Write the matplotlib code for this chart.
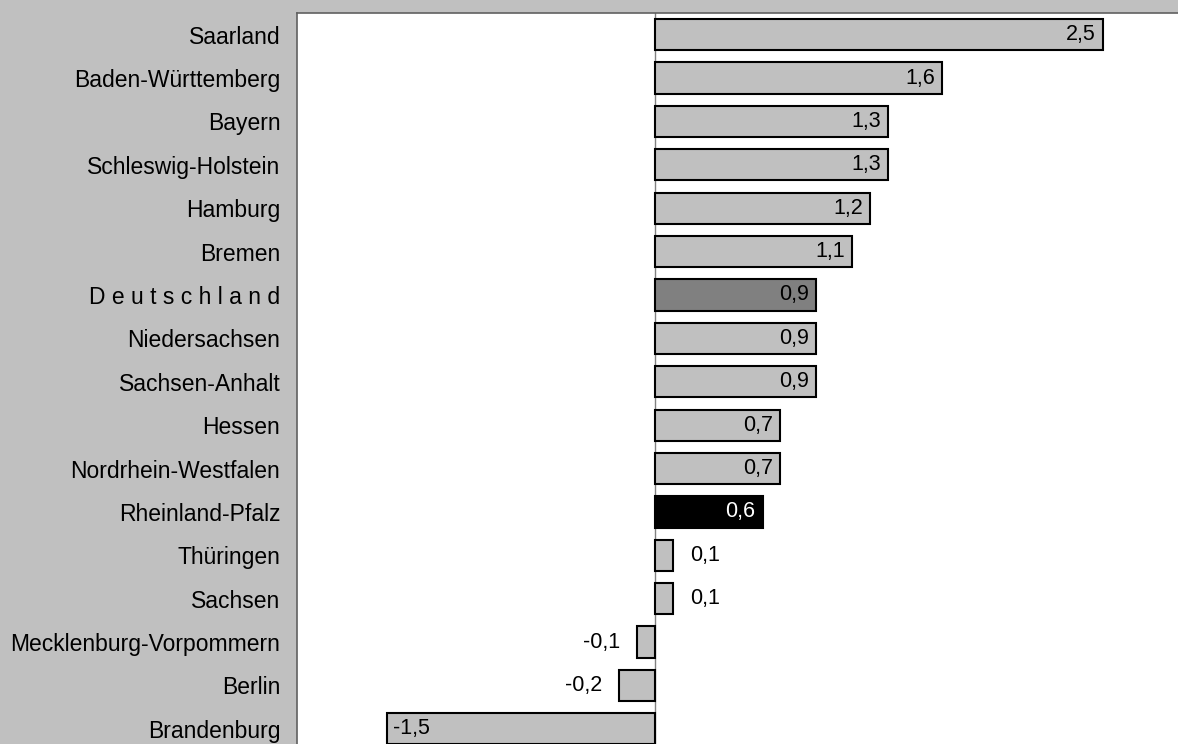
import matplotlib.pyplot as plt

laender = ["Saarland", "Baden-Württemberg", "Bayern", "Schleswig-Holstein",
           "Hamburg", "Bremen", "D e u t s c h l a n d", "Niedersachsen",
           "Sachsen-Anhalt", "Hessen", "Nordrhein-Westfalen", "Rheinland-Pfalz",
           "Thüringen", "Sachsen", "Mecklenburg-Vorpommern", "Berlin",
           "Brandenburg"]
werte = [2.5, 1.6, 1.3, 1.3, 1.2, 1.1, 0.9, 0.9, 0.9, 0.7, 0.7, 0.6,
         0.1, 0.1, -0.1, -0.2, -1.5]

plt.rcParams["font.family"] = ["Liberation Sans", "DejaVu Sans"]

# Farben: Bund dunkelgrau, Rheinland-Pfalz schwarz, Rest hellgrau
farben = []
for land in laender:
    if land.startswith("D e u"):
        farben.append("#808080")
    elif land == "Rheinland-Pfalz":
        farben.append("black")
    else:
        farben.append("#c0c0c0")

fig = plt.figure(figsize=(11.78, 7.44), dpi=100)
fig.patch.set_facecolor("#c0c0c0")
ax = fig.add_axes([297 / 1178, 0, 1 - 297 / 1178, 1 - 13 / 744])
ax.set_facecolor("white")

pos = list(range(len(laender)))
ax.barh(pos, werte, height=0.72, color=farben, edgecolor="black",
        linewidth=1.5, zorder=3)
ax.axvline(0, color="#808080", linewidth=1, zorder=2)

ax.set_xlim(-2.0, 2.92)
ax.set_ylim(16.35, -0.5)

ax.set_yticks(pos)
ax.set_yticklabels(laender, fontsize=16.5)
ax.tick_params(axis="y", length=0, pad=12)
ax.set_xticks([])

for s in ["right", "bottom"]:
    ax.spines[s].set_visible(False)
for s in ["left", "top"]:
    ax.spines[s].set_color("#606060")
    ax.spines[s].set_linewidth(1.2)

# Werte an die Balken schreiben
for y, w, f in zip(pos, werte, farben):
    txt = f"{w:.1f}".replace(".", ",")
    farbe = "white" if f == "black" else "black"
    if w >= 0.3:
        ax.annotate(txt, (w, y), xytext=(-5, 0), textcoords="offset points",
                    ha="right", va="center", fontsize=15.5, color=farbe, zorder=4)
    elif w >= 0:
        ax.annotate(txt, (w, y), xytext=(12, 0), textcoords="offset points",
                    ha="left", va="center", fontsize=15.5, zorder=4)
    elif w > -0.3:
        ax.annotate(txt, (w, y), xytext=(-12, 0), textcoords="offset points",
                    ha="right", va="center", fontsize=15.5, zorder=4)
    else:
        ax.annotate(txt, (w, y), xytext=(5, 0), textcoords="offset points",
                    ha="left", va="center", fontsize=15.5, zorder=4)

plt.savefig("out.png", dpi=100, facecolor=fig.get_facecolor())
